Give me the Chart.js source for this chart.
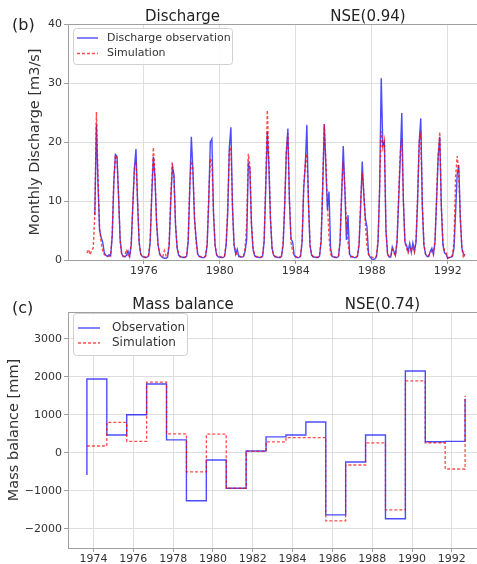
<!DOCTYPE html>
<html>
<head>
<meta charset="utf-8">
<title>Discharge and mass balance</title>
<script src="https://cdn.jsdelivr.net/npm/chart.js@4.4.1/dist/chart.umd.min.js"></script>
<style>
  html, body { margin: 0; padding: 0; background: #fff; overflow: hidden; }
  #wrap { position: relative; width: 477px; height: 564px; overflow: hidden; }
  .panel { position: absolute; left: 0; width: 500px; height: 282px; }
</style>
</head>
<body>
<div id="wrap">
  <div class="panel" style="top:0"><canvas id="dischargeChart" width="500" height="282"></canvas></div>
  <div class="panel" style="top:282px"><canvas id="balanceChart" width="500" height="282"></canvas></div>
</div>
<script>
// --- Monthly discharge [m3/s], Jan 1973 .. Dec 1992 (one row per year) ---
const dischargeStartYear = 1973;
const obsDischarge = [
  null, null, null, null, null, 7.6, 23.0, 13.0, 5.0, 3.8, 3.0, 1.2,   // 1973
  0.8, 0.6, 0.9, 0.7, 4.0, 13.0, 17.9, 17.6, 11.0, 3.5, 1.0, 0.6,      // 1974
  0.5, 0.8, 1.5, 0.6, 2.5, 9.0, 15.5, 18.8, 10.0, 3.0, 1.0, 0.6,       // 1975
  0.5, 0.4, 0.5, 0.7, 3.0, 11.0, 17.5, 14.0, 6.5, 2.5, 1.0, 0.6,       // 1976
  0.4, 0.3, 0.3, 0.5, 2.5, 10.0, 15.8, 14.5, 6.0, 2.0, 0.8, 0.5,       // 1977
  0.5, 0.4, 0.4, 0.6, 3.0, 12.0, 20.9, 15.0, 7.0, 3.7, 1.0, 0.6,       // 1978
  0.5, 0.4, 0.4, 0.6, 2.5, 10.0, 20.0, 20.5, 8.0, 2.5, 0.8, 0.5,       // 1979
  0.5, 0.4, 0.4, 0.6, 2.5, 8.0, 19.0, 22.5, 9.0, 2.5, 1.0, 1.8,        // 1980
  0.6, 0.5, 0.5, 0.6, 1.5, 3.5, 16.4, 15.5, 6.0, 1.8, 0.7, 0.5,        // 1981
  0.5, 0.4, 0.4, 0.6, 3.0, 12.0, 21.8, 16.0, 7.0, 2.0, 0.8, 0.5,       // 1982
  0.5, 0.4, 0.4, 0.6, 2.5, 9.0, 18.0, 22.3, 10.0, 3.5, 3.1, 0.8,       // 1983
  0.5, 0.4, 0.4, 0.6, 3.0, 12.0, 16.0, 22.9, 10.0, 2.5, 0.8, 0.5,      // 1984
  0.5, 0.4, 0.4, 0.6, 3.0, 12.0, 23.0, 16.0, 8.5, 11.6, 2.0, 0.6,      // 1985
  0.5, 0.4, 0.4, 0.6, 3.0, 11.0, 19.3, 12.0, 3.4, 7.6, 1.0, 0.5,       // 1986
  0.5, 0.4, 0.4, 0.6, 2.5, 9.0, 16.7, 11.0, 7.0, 5.6, 1.0, 0.5,        // 1987
  0.2, 0.1, 0.2, 0.5, 3.0, 12.0, 30.8, 19.5, 20.0, 5.0, 1.0, 0.5,      // 1988
  0.5, 2.2, 1.5, 0.8, 3.0, 10.0, 17.0, 24.9, 10.0, 3.0, 2.5, 1.5,      // 1989
  2.8, 1.3, 2.9, 1.5, 3.0, 10.0, 20.0, 24.0, 9.0, 2.5, 1.0, 0.6,       // 1990
  0.6, 1.5, 2.0, 1.0, 3.0, 10.0, 17.5, 20.9, 9.0, 2.5, 1.2, 1.0,       // 1991
  0.3, 0.4, 0.5, 0.6, 2.0, 8.0, 14.5, 16.1, 7.0, 2.0, 1.0, 0.8         // 1992
];
const simDischarge = [
  1.2, 1.8, 0.9, 1.6, 2.0, 8.0, 25.1, 14.0, 5.5, 3.0, 1.5, 0.9,        // 1973
  0.8, 0.7, 0.6, 0.8, 4.5, 13.5, 17.8, 17.2, 10.5, 3.2, 0.9, 0.6,      // 1974
  0.7, 1.8, 0.8, 0.6, 2.8, 9.5, 15.5, 16.7, 10.0, 3.0, 1.0, 0.6,       // 1975
  0.6, 0.5, 0.5, 0.8, 3.5, 12.0, 19.1, 14.5, 6.5, 2.5, 1.0, 0.6,       // 1976
  0.6, 1.6, 0.7, 0.7, 3.0, 11.0, 16.5, 14.0, 6.0, 2.2, 0.9, 0.6,       // 1977
  0.6, 0.5, 0.5, 0.7, 3.5, 12.5, 16.8, 15.5, 7.0, 3.0, 1.0, 0.6,       // 1978
  0.6, 0.5, 0.5, 0.7, 3.0, 11.0, 17.2, 16.5, 8.0, 2.5, 0.9, 0.6,       // 1979
  0.6, 0.5, 0.5, 0.7, 3.0, 9.0, 18.5, 19.1, 9.0, 2.5, 1.6, 0.8,        // 1980
  0.8, 0.6, 0.5, 0.7, 2.0, 6.3, 18.0, 16.0, 6.0, 2.0, 0.8, 0.6,        // 1981
  0.6, 0.5, 0.5, 0.7, 3.5, 13.0, 25.4, 17.0, 7.0, 2.0, 0.8, 0.6,       // 1982
  0.6, 0.5, 0.5, 0.7, 3.0, 10.0, 18.5, 21.5, 10.0, 3.0, 1.5, 0.7,      // 1983
  0.6, 0.5, 0.5, 0.7, 3.5, 12.5, 16.5, 18.0, 10.0, 2.5, 0.9, 0.6,      // 1984
  0.6, 0.5, 0.5, 0.7, 3.5, 12.5, 23.0, 17.0, 9.5, 4.0, 1.0, 0.6,       // 1985
  0.6, 0.5, 0.5, 0.7, 3.5, 11.5, 16.7, 12.5, 6.5, 3.0, 1.0, 0.6,       // 1986
  0.6, 0.5, 0.5, 0.7, 3.0, 10.0, 14.7, 11.5, 6.0, 2.5, 0.9, 0.6,       // 1987
  0.5, 0.4, 0.4, 0.7, 3.5, 12.5, 21.8, 19.0, 20.3, 5.0, 1.0, 0.6,      // 1988
  0.6, 1.8, 1.2, 0.8, 3.5, 11.0, 18.0, 20.6, 10.0, 3.0, 2.0, 1.2,      // 1989
  2.0, 1.6, 2.0, 1.3, 3.5, 11.0, 20.0, 21.2, 9.0, 2.5, 1.0, 0.7,       // 1990
  0.7, 1.2, 1.5, 0.9, 3.5, 11.0, 18.0, 21.7, 9.0, 3.0, 1.5, 1.2,       // 1991
  0.3, 0.5, 0.5, 0.8, 3.0, 14.0, 17.6, 15.0, 7.0, 2.0, 0.3, 1.4        // 1992
];
const dischargeYearTicks = [1976, 1980, 1984, 1988, 1992];
const dischargeValueTicks = [0, 10, 20, 30, 40];

// --- Annual mass balance [mm w.e.], hydrological years ending in September ---
const mbYears = [1974, 1975, 1976, 1977, 1978, 1979, 1980, 1981, 1982, 1983,
                 1984, 1985, 1986, 1987, 1988, 1989, 1990, 1991, 1992];
const mbObs = [1940, 470, 1000, 1810, 340, -1260, -190, -930, 50, 420,
               470, 810, -1630, -240, 470, -1730, 2150, 290, 300];
const mbSim = [180, 800, 300, 1860, 500, -500, 490, -930, 40, 290,
               400, 400, -1790, -320, 260, -1500, 1890, 265, -425];
const mbObsEnds = [-580, 1420];   // first and last point of the observed step line
const mbSimEnds = [180, 1500];
const mbYearTicks = [1974, 1976, 1978, 1980, 1982, 1984, 1986, 1988, 1990, 1992];
const mbValueTicks = [-2000, -1000, 0, 1000, 2000, 3000];

// Colores y estilo comunes
Chart.defaults.font.family = "'DejaVu Sans', sans-serif";
Chart.defaults.color = '#333';
const spineColor = '#a0a0a0';
const gridColor = '#dedede';
const obsColor = 'rgba(0, 0, 255, 0.7)';
const simColor = 'rgba(255, 0, 0, 0.7)';

// monthly series -> {x: decimal year, y}
function monthlyPoints(values) {
    return values.map((v, i) => ({ x: dischargeStartYear + i / 12, y: v }));
}

// yearly balance -> step points; each year runs from Sep 1 of the year before
function balancePoints(values, ends) {
    const pts = [{ x: mbYears[0] - 1 + 2 / 3, y: ends[0] }];
    values.forEach((v, i) => pts.push({ x: mbYears[i] + 2 / 3, y: v }));
    pts.push({ x: mbYears[mbYears.length - 1] + 2 / 3, y: ends[1] });
    return pts;
}

function xAxis(min, max, tickValues, height) {
    return {
        type: 'linear', min: min, max: max,
        afterBuildTicks: s => { s.ticks = tickValues.map(v => ({ value: v })); },
        afterFit: s => { s.height = height; },
        ticks: { callback: v => String(v), font: { size: 11 }, padding: 1, maxRotation: 0, autoSkip: false },
        grid: { color: gridColor, tickColor: spineColor, tickLength: 4 },
        border: { color: spineColor }
    };
}

function yAxis(min, max, tickValues, label, titlePad) {
    return {
        type: 'linear', min: min, max: max,
        afterBuildTicks: s => { s.ticks = tickValues.map(v => ({ value: v })); },
        afterFit: s => { s.width = 68; },
        ticks: { callback: v => String(v).replace('-', '\u2212'), font: { size: 11 }, padding: 2 },
        grid: { color: gridColor, tickColor: spineColor, tickLength: 4 },
        border: { color: spineColor },
        title: { display: true, text: label, font: { size: 14.5 }, color: '#333', padding: { top: titlePad, bottom: 0 } }
    };
}

// panel letter, titles, top spine and the legend box inside the axes
const panelDecor = {
    id: 'panelDecor',
    afterDraw(chart, args, opts) {
        const { ctx, chartArea: a } = chart;
        ctx.save();
        ctx.strokeStyle = spineColor;
        ctx.lineWidth = 1;
        ctx.beginPath();
        ctx.moveTo(a.left, Math.round(a.top) + 0.5);
        ctx.lineTo(a.right, Math.round(a.top) + 0.5);
        ctx.stroke();

        ctx.fillStyle = '#222';
        ctx.textBaseline = 'alphabetic';
        ctx.textAlign = 'left';
        ctx.font = "16px 'DejaVu Sans'";
        ctx.fillText(opts.letter, 12, opts.letterY);
        ctx.textAlign = 'center';
        ctx.font = "15px 'DejaVu Sans'";
        ctx.fillText(opts.title, opts.titleX, opts.titleY);
        ctx.fillText(opts.score, opts.scoreX, opts.titleY);

        const lg = opts.legend;
        ctx.fillStyle = 'rgba(255,255,255,0.85)';
        ctx.strokeStyle = '#d0d0d0';
        ctx.beginPath();
        ctx.roundRect(lg.x + 0.5, lg.y + 0.5, lg.w, lg.h, 3);
        ctx.fill();
        ctx.stroke();
        ctx.font = lg.font + "px 'DejaVu Sans'";
        ctx.textAlign = 'left';
        ctx.textBaseline = 'middle';
        lg.order.forEach((di, row) => {
            const ds = chart.data.datasets[di];
            const y = lg.rows[row];
            ctx.strokeStyle = ds.borderColor;
            ctx.lineWidth = ds.borderWidth;
            ctx.setLineDash(ds.borderDash || []);
            ctx.beginPath();
            ctx.moveTo(lg.lineX[0], y);
            ctx.lineTo(lg.lineX[1], y);
            ctx.stroke();
            ctx.setLineDash([]);
            ctx.fillStyle = '#333';
            ctx.fillText(ds.label, lg.textX, y);
        });
        ctx.restore();
    }
};

// --- Gráfica de caudal mensual ---
new Chart(document.getElementById('dischargeChart'), {
    type: 'line',
    data: {
        datasets: [
            { label: 'Simulation', data: monthlyPoints(simDischarge), borderColor: simColor,
              borderWidth: 1.4, borderDash: [3, 2], pointRadius: 0, tension: 0 },
            { label: 'Discharge observation', data: monthlyPoints(obsDischarge), borderColor: obsColor,
              borderWidth: 1.4, pointRadius: 0, tension: 0 }
        ]
    },
    options: {
        responsive: false, animation: false, devicePixelRatio: 1,
        layout: { padding: { top: 24, right: 16, left: 0, bottom: 0 } },
        plugins: {
            legend: { display: false }, tooltip: { enabled: false },
            panelDecor: {
                letter: '(b)', letterY: 30, title: 'Discharge', titleX: 182.5,
                score: 'NSE(0.94)', scoreX: 368, titleY: 21,
                legend: { x: 73, y: 28, w: 159, h: 36, rows: [38, 53.5], lineX: [77, 98], textX: 107, font: 11, order: [1, 0] }
            }
        },
        scales: {
            x: xAxis(1972.004, 1993.913, dischargeYearTicks, 22),
            y: yAxis(0, 40, dischargeValueTicks, 'Monthly Discharge [m3/s]', 26.6)
        }
    },
    plugins: [panelDecor]
});

// --- Gráfica de balance de masa ---
new Chart(document.getElementById('balanceChart'), {
    type: 'line',
    data: {
        datasets: [
            { label: 'Simulation', data: balancePoints(mbSim, mbSimEnds), borderColor: simColor,
              borderWidth: 1.3, borderDash: [3, 2], pointRadius: 0, stepped: 'after' },
            { label: 'Observation', data: balancePoints(mbObs, mbObsEnds), borderColor: obsColor,
              borderWidth: 1.4, pointRadius: 0, stepped: 'after' }
        ]
    },
    options: {
        responsive: false, animation: false, devicePixelRatio: 1,
        layout: { padding: { top: 30, right: 16, left: 0, bottom: 0 } },
        plugins: {
            legend: { display: false }, tooltip: { enabled: false },
            panelDecor: {
                letter: '(c)', letterY: 31, title: 'Mass balance', titleX: 183,
                score: 'NSE(0.74)', scoreX: 382.5, titleY: 27,
                legend: { x: 73, y: 31, w: 114, h: 42, rows: [46, 61], lineX: [78, 100], textX: 112, font: 12, order: [1, 0] }
            }
        },
        scales: {
            x: xAxis(1972.717, 1993.617, mbYearTicks, 16),
            y: yAxis(-2500, 3700, mbValueTicks, 'Mass balance [mm]', 5.3)
        }
    },
    plugins: [panelDecor]
});
</script>
</body>
</html>
